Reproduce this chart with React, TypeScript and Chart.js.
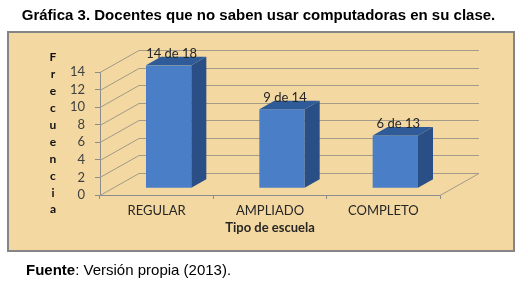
import React, { useEffect, useRef } from "react";
import { Chart, registerables } from "chart.js";

Chart.register(...registerables);

// ---- data ----
const categories = ["REGULAR", "AMPLIADO", "COMPLETO"];
const values = [14, 9, 6];
const totals = [18, 14, 13];
const yMin = 0;
const yMax = 14;
const yStep = 2;
const yTitleLetters = ["F", "r", "e", "c", "u", "e", "n", "c", "i", "a"];
const xTitleText = "Tipo de escuela";
const titleText = "Gráfica 3. Docentes que no saben usar computadoras en su clase.";
const sourceLabel = "Fuente";
const sourceText = ": Versión propia (2013).";

// ---- style ----
const DEPTH_X = 39;
const DEPTH_Y = 22;
const BAR_DEPTH = 0.385;
const GRID = "#a39a8a";
const AXIS = "#8c8c8c";
const FRONT = "#4a7ec6";
const TOP = "#2f5b98";
const SIDE = "#2a4f86";
const FONT = "Lato, 'Open Sans', sans-serif";

const threeD = {
  id: "threeD",
  beforeDatasetsDraw(chart: any) {
    const { ctx, chartArea, scales } = chart;
    const ys = scales.y;
    const L = chartArea.left;
    const R = chartArea.right;
    ctx.save();
    ctx.strokeStyle = GRID;
    ctx.lineWidth = 1;
    ys.ticks.forEach((t: any) => {
      const py = Math.round(ys.getPixelForValue(t.value)) + 0.5;
      ctx.beginPath();
      ctx.moveTo(L, py);
      ctx.lineTo(L + DEPTH_X, py - DEPTH_Y);
      ctx.lineTo(R + DEPTH_X, py - DEPTH_Y);
      ctx.stroke();
    });
    const by = Math.round(ys.getPixelForValue(0)) + 0.5;
    ctx.beginPath();
    ctx.moveTo(R, by);
    ctx.lineTo(R + DEPTH_X, by - DEPTH_Y);
    ctx.stroke();
    ctx.restore();

    // y axis title: stacked letters
    ctx.save();
    ctx.fillStyle = "#111";
    ctx.font = "bold 12px " + FONT;
    ctx.textAlign = "center";
    ctx.textBaseline = "middle";
    const mid = (chartArea.top + chartArea.bottom) / 2;
    const gap = 16.9;
    yTitleLetters.forEach((ch, i) => {
      ctx.fillText(ch, L - 47, mid + (i - (yTitleLetters.length - 1) / 2) * gap);
    });
    ctx.restore();

    const off = (1 - BAR_DEPTH) / 2;
    ctx.save();
    ctx.translate(DEPTH_X * off, -DEPTH_Y * off);
  },
  afterDatasetsDraw(chart: any) {
    const { ctx } = chart;
    const sdx = DEPTH_X * BAR_DEPTH;
    const sdy = DEPTH_Y * BAR_DEPTH;
    const meta = chart.getDatasetMeta(0);
    meta.data.forEach((el: any) => {
      const { x, y, base, width } = el.getProps(["x", "y", "base", "width"], true);
      const l = x - width / 2;
      const r = x + width / 2;
      ctx.fillStyle = SIDE;
      ctx.beginPath();
      ctx.moveTo(r, y);
      ctx.lineTo(r + sdx, y - sdy);
      ctx.lineTo(r + sdx, base - sdy);
      ctx.lineTo(r, base);
      ctx.closePath();
      ctx.fill();
      ctx.fillStyle = TOP;
      ctx.beginPath();
      ctx.moveTo(l, y);
      ctx.lineTo(l + sdx, y - sdy);
      ctx.lineTo(r + sdx, y - sdy);
      ctx.lineTo(r, y);
      ctx.closePath();
      ctx.fill();
    });
    ctx.restore();

    // data labels
    const off = (1 - BAR_DEPTH) / 2;
    ctx.save();
    ctx.fillStyle = "#262626";
    ctx.font = "13px " + FONT;
    ctx.textAlign = "center";
    ctx.textBaseline = "middle";
    meta.data.forEach((el: any, i: number) => {
      const { x, y } = el.getProps(["x", "y"], true);
      const lx = x + DEPTH_X * off + 3;
      const ly = y - DEPTH_Y * off - sdy - 3;
      ctx.fillText(values[i] + " de " + totals[i], lx, ly);
    });
    ctx.restore();
  },
};

export default function App() {
  const ref = useRef<HTMLCanvasElement>(null);

  useEffect(() => {
    if (!ref.current) return;
    const chart = new Chart(ref.current, {
      type: "bar",
      data: {
        labels: categories,
        datasets: [
          {
            data: values,
            backgroundColor: FRONT,
            borderWidth: 0,
            barPercentage: 0.4,
            categoryPercentage: 1,
          },
        ],
      },
      options: {
        animation: false,
        responsive: false,
        events: [],
        layout: { padding: { left: 50, right: 88, top: 72, bottom: 49 } },
        plugins: {
          legend: { display: false },
          tooltip: { enabled: false },
          title: { display: false },
        },
        scales: {
          x: {
            offset: true,
            grid: {
              offset: true,
              drawOnChartArea: false,
              drawTicks: true,
              tickLength: 4,
              color: AXIS,
            },
            border: { display: true, color: AXIS, width: 1 },
            ticks: {
              color: "#262626",
              font: { family: FONT, size: 13 },
              padding: 4,
              maxRotation: 0,
              autoSkip: false,
            },
            title: {
              display: true,
              text: xTitleText,
              color: "#262626",
              font: { family: FONT, size: 13, weight: "bold" },
              padding: { top: 0, bottom: 0 },
            },
            afterFit: (s: any) => {
              s.height = 41;
            },
          },
          y: {
            min: yMin,
            max: yMax,
            grid: {
              drawOnChartArea: false,
              drawTicks: true,
              tickLength: 5,
              color: AXIS,
            },
            border: { display: true, color: AXIS, width: 1 },
            ticks: {
              stepSize: yStep,
              autoSkip: false,
              color: "#404040",
              font: { family: FONT, size: 13 },
              padding: 10,
            },
            afterFit: (s: any) => {
              s.width = 50;
            },
          },
        },
      },
      plugins: [threeD],
    });
    return () => chart.destroy();
  }, []);

  return (
    <div
      style={{
        position: "fixed",
        left: 0,
        top: 0,
        width: 528,
        height: 285,
        background: "#ffffff",
        overflow: "hidden",
      }}
    >
      <div
        style={{
          position: "absolute",
          left: 7,
          top: 31,
          width: 504,
          height: 217,
          background: "#f3d8a2",
          border: "2px solid #858585",
        }}
      />
      <canvas
        ref={ref}
        width={528}
        height={285}
        style={{ position: "absolute", left: 0, top: 0, width: 528, height: 285 }}
      />
      <div
        style={{
          position: "absolute",
          left: 0,
          top: 6,
          width: 517,
          textAlign: "center",
          fontFamily: "'Liberation Sans', Arial, sans-serif",
          fontWeight: "bold",
          fontSize: 15,
          lineHeight: "18px",
          color: "#000",
          whiteSpace: "nowrap",
        }}
      >
        {titleText}
      </div>
      <div
        style={{
          position: "absolute",
          left: 26,
          top: 261,
          fontFamily: "'Liberation Sans', Arial, sans-serif",
          fontSize: 15,
          lineHeight: "18px",
          color: "#000",
          whiteSpace: "nowrap",
        }}
      >
        <b>{sourceLabel}</b>
        {sourceText}
      </div>
    </div>
  );
}
